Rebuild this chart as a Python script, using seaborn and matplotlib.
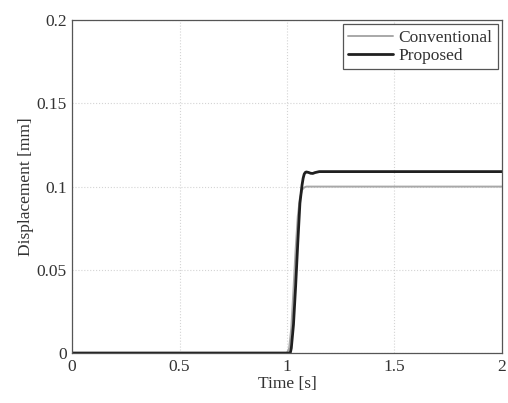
import matplotlib
matplotlib.use("Agg")
import matplotlib.pyplot as plt
import seaborn as sns
import pandas as pd
from matplotlib.lines import Line2D

# Step response samples (time in s, displacement in mm)
conv_time = [0.0, 1.00, 1.01, 1.02, 1.03, 1.04, 1.05, 1.06, 1.07, 1.08, 1.09, 2.0]
conv_disp = [0.0, 0.0, 0.003, 0.015, 0.038, 0.062, 0.082, 0.093, 0.098, 0.0995, 0.1, 0.1]

prop_time = [0.0, 1.015, 1.02, 1.03, 1.04, 1.05, 1.06, 1.07, 1.075, 1.08,
             1.085, 1.09, 1.10, 1.11, 1.12, 1.13, 1.15, 2.0]
prop_disp = [0.0, 0.0, 0.003, 0.017, 0.04, 0.066, 0.09, 0.101, 0.105, 0.1075,
             0.1085, 0.1088, 0.1085, 0.108, 0.1079, 0.1084, 0.109, 0.109]

x_ticks = [0, 0.5, 1, 1.5, 2]
y_ticks = [0, 0.05, 0.1, 0.15, 0.2]

df = pd.concat([
    pd.DataFrame({"t": conv_time, "d": conv_disp, "method": "Conventional"}),
    pd.DataFrame({"t": prop_time, "d": prop_disp, "method": "Proposed"}),
])

sns.set_style("whitegrid")
plt.rcParams["font.family"] = ["Liberation Serif", "DejaVu Serif"]

fig, ax = plt.subplots(figsize=(5.08, 4.03), dpi=100)
fig.subplots_adjust(left=0.142, right=0.988, top=0.95, bottom=0.124)

sns.lineplot(data=df, x="t", y="d", hue="method", sort=False,
             palette={"Conventional": "#a8a8a8", "Proposed": "#202020"},
             ax=ax, estimator=None, legend=False)
ax.lines[0].set_linewidth(1.4)
ax.lines[1].set_linewidth(2.0)

ax.set_xlim(0, 2)
ax.set_ylim(0, 0.2)
ax.set_xticks(x_ticks)
ax.set_xticklabels(["0", "0.5", "1", "1.5", "2"])
ax.set_yticks(y_ticks)
ax.set_yticklabels(["0", "0.05", "0.1", "0.15", "0.2"])
ax.tick_params(labelsize=12.5, colors="#333333", direction="in", length=3,
               width=0.8, pad=4)
ax.grid(True, linestyle=":", color="#d4d4d4", linewidth=0.8)
for sp in ax.spines.values():
    sp.set_visible(True)
    sp.set_color("#555555")
    sp.set_linewidth(0.9)

ax.set_xlabel("Time [s]", fontsize=12.5, color="#333333", labelpad=1)
ax.set_ylabel("Displacement [mm]", fontsize=12.5, color="#333333", labelpad=2)

handles = [Line2D([], [], color="#a8a8a8", lw=1.4),
           Line2D([], [], color="#202020", lw=2.0)]
leg = ax.legend(handles, ["Conventional", "Proposed"], loc="upper right",
                fontsize=12.5, frameon=True, fancybox=False, framealpha=1,
                borderaxespad=0.25, handlelength=2.6, handletextpad=0.3,
                borderpad=0.3, labelspacing=0.1)
leg.get_frame().set_edgecolor("#555555")
leg.get_frame().set_linewidth(0.9)
for t in leg.get_texts():
    t.set_color("#333333")

fig.savefig("out.png", dpi=100, facecolor="white")
